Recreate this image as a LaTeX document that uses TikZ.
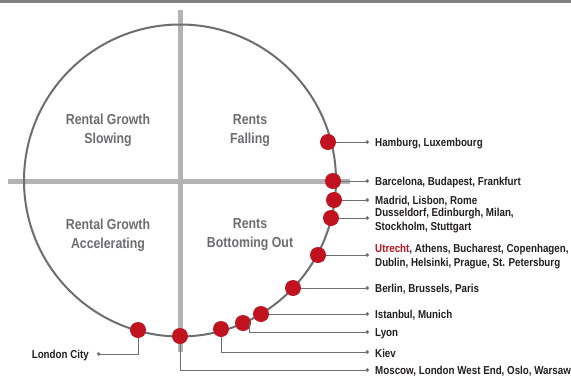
\documentclass[tikz,border=0pt]{standalone}
\usepackage{fontspec}
\setmainfont{Liberation Sans}[FakeStretch=0.85]
\usepackage{xcolor}
\usepackage{tikz}
\usetikzlibrary{arrows.meta}
\definecolor{cityred}{HTML}{C1121F}
\definecolor{ringgray}{HTML}{6D6E71}
\definecolor{axisgray}{HTML}{B3B3B3}
\definecolor{labelblack}{HTML}{231F20}

\begin{document}
\begin{tikzpicture}[x=1pt,y=-1pt,
    citydot/.style={circle,fill=cityred,minimum size=16pt,inner sep=0pt},
    leader/.style={draw=ringgray,line width=0.9pt,-{Circle[length=3.5pt]}},
    city/.style={anchor=west,inner sep=0pt,align=left,text=labelblack,yshift=-1.5pt,
      font=\fontsize{11.5}{14}\selectfont\bfseries},
    quad/.style={align=center,text=ringgray,
      font=\fontsize{14.5}{19}\selectfont\bfseries}]
    \useasboundingbox (0,0) rectangle (571,378);
    \fill[white] (0,0) rectangle (571,378);
    \fill[black!50] (0,0) rectangle (571,3);

    % Axes and ring
    \draw[axisgray,line width=5pt] (180,10) -- (180,352);
    \draw[axisgray,line width=5pt] (8,181) -- (350,181);
    \draw[ringgray,line width=2pt] (180,180.5) circle (156);

    % Quadrants
    \node[quad] (slowing) at (108,130.5) {Rental Growth\\Slowing};
    \node[quad] (falling) at (250,130.5) {Rents\\Falling};
    \node[quad] (accel) at (108,235) {Rental Growth\\Accelerating};
    \node[quad] (bottom) at (250,235) {Rents\\Bottoming Out};

    % Cities on the ring
    \node[citydot] (hamburg) at (328,142) {};
    \node[citydot] (barcelona) at (333,181) {};
    \node[citydot] (madrid) at (334,200) {};
    \node[citydot] (dusseldorf) at (331,218) {};
    \node[citydot] (utrecht) at (318,255) {};
    \node[citydot] (berlin) at (293,288) {};
    \node[citydot] (istanbul) at (261,314) {};
    \node[citydot] (lyon) at (243,323) {};
    \node[citydot] (kiev) at (221,329) {};
    \node[citydot] (moscow) at (180,336) {};
    \node[citydot] (london) at (138,330) {};

    % Leader ends
    \coordinate (hamburgE) at (369,142);
    \coordinate (barcelonaE) at (369,181);
    \coordinate (madridE) at (369,200);
    \coordinate (dusseldorfE) at (369,218);
    \coordinate (utrechtE) at (369,255);
    \coordinate (berlinE) at (369,288);
    \coordinate (istanbulE) at (369,314);
    \coordinate (lyonE) at (369,332);
    \coordinate (kievE) at (369,352);
    \coordinate (moscowE) at (369,370);
    \coordinate (londonE) at (97,354);

    \draw[leader] (hamburg.east) -- (hamburgE);
    \draw[leader] (barcelona.east) -- (barcelonaE);
    \draw[leader] (madrid.east) -- (madridE);
    \draw[leader] (dusseldorf.east) -- (dusseldorfE);
    \draw[leader] (utrecht.east) -- (utrechtE);
    \draw[leader] (berlin.east) -- (berlinE);
    \draw[leader] (istanbul.east) -- (istanbulE);
    \draw[leader] ([xshift=6pt]lyon.center) |- (lyonE);
    \draw[leader] (kiev.south) |- (kievE);
    \draw[leader] (moscow.south) |- (moscowE);
    \draw[leader] (london.south) |- (londonE);

    % Labels
    \node[city] (hamburgL) at (375,142) {Hamburg, Luxembourg};
    \node[city] (barcelonaL) at (375,181) {Barcelona, Budapest, Frankfurt};
    \node[city] (madridL) at (375,200) {Madrid, Lisbon, Rome};
    \node[city] (dusseldorfL) at (375,219) {Dusseldorf, Edinburgh, Milan,\\Stockholm, Stuttgart};
    \node[city] (utrechtL) at (375,255) {\textcolor{cityred}{Utrecht}, Athens, Bucharest, Copenhagen,\\Dublin, Helsinki, Prague, St. Petersburg};
    \node[city] (berlinL) at (375,288) {Berlin, Brussels, Paris};
    \node[city] (istanbulL) at (375,314) {Istanbul, Munich};
    \node[city] (lyonL) at (375,332) {Lyon};
    \node[city] (kievL) at (375,352) {Kiev};
    \node[city] (moscowL) at (375,370) {Moscow, London West End, Oslo, Warsaw};
    \node[city,anchor=east] (londonL) at (89,354) {London City};
\end{tikzpicture}
\end{document}
